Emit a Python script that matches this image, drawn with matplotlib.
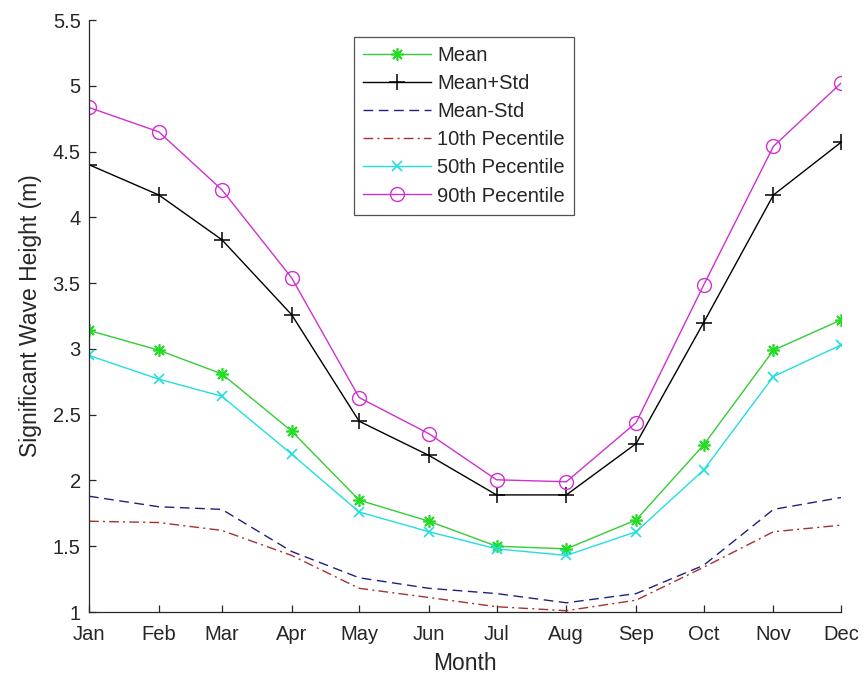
import matplotlib
matplotlib.use("Agg")
import matplotlib.pyplot as plt

months = ["Jan", "Feb", "Mar", "Apr", "May", "Jun", "Jul", "Aug", "Sep", "Oct", "Nov", "Dec"]
day_of_year = [1, 32, 60, 91, 121, 152, 182, 213, 244, 274, 305, 335]

mean_hs = [3.14, 2.99, 2.81, 2.375, 1.85, 1.69, 1.50, 1.48, 1.70, 2.27, 2.99, 3.22]
mean_plus_std = [4.40, 4.17, 3.83, 3.26, 2.45, 2.19, 1.89, 1.89, 2.28, 3.20, 4.17, 4.57]
mean_minus_std = [1.88, 1.80, 1.78, 1.46, 1.26, 1.18, 1.14, 1.07, 1.14, 1.355, 1.78, 1.87]
p10 = [1.69, 1.68, 1.62, 1.43, 1.18, 1.11, 1.04, 1.01, 1.09, 1.34, 1.61, 1.66]
p50 = [2.95, 2.77, 2.64, 2.20, 1.76, 1.61, 1.48, 1.43, 1.61, 2.08, 2.79, 3.03]
p90 = [4.835, 4.65, 4.21, 3.54, 2.63, 2.355, 2.005, 1.99, 2.44, 3.485, 4.54, 5.02]

yticks = [1, 1.5, 2, 2.5, 3, 3.5, 4, 4.5, 5, 5.5]
ytick_labels = ["1", "1.5", "2", "2.5", "3", "3.5", "4", "4.5", "5", "5.5"]

plt.rcParams["font.family"] = ["Liberation Sans", "DejaVu Sans"]

fig = plt.figure(figsize=(8.66, 6.84), dpi=100)
ax = fig.add_axes([89 / 866, 1 - 612 / 684, (841 - 89) / 866, (612 - 20) / 684])

lw = 1.0
ax.plot(day_of_year, mean_hs, color="#35cc35", lw=lw, marker=(8, 2, 0), ms=9,
        mec="#22dd22", mew=1.2, label="Mean")
ax.plot(day_of_year, mean_plus_std, color="black", lw=lw, marker="+", ms=12,
        mew=1.1, label="Mean+Std")
ax.plot(day_of_year, mean_minus_std, color="#20207f", lw=lw, ls=(0, (7, 4)),
        label="Mean-Std")
ax.plot(day_of_year, p10, color="#a83030", lw=lw, ls=(0, (7, 3, 1.5, 3)),
        label="10th Pecentile")
ax.plot(day_of_year, p50, color="#22dede", lw=lw, marker="x", ms=7, mew=1.2,
        label="50th Pecentile")
ax.plot(day_of_year, p90, color="#d030d0", lw=lw, marker="o", ms=10, mfc="none",
        mew=1.0, label="90th Pecentile")

ax.set_xlim(day_of_year[0], day_of_year[-1])
ax.set_ylim(1, 5.5)
ax.set_xticks(day_of_year)
ax.set_xticklabels(months)
ax.set_yticks(yticks)
ax.set_yticklabels(ytick_labels)

for s in ["top", "right"]:
    ax.spines[s].set_visible(False)
for s in ["left", "bottom"]:
    ax.spines[s].set_linewidth(0.9)
    ax.spines[s].set_color("#262626")

ax.tick_params(axis="both", direction="in", length=5, width=0.9, colors="#262626",
               labelsize=14.5, labelcolor="#262626")
ax.tick_params(axis="x", pad=9)
ax.tick_params(axis="y", pad=6)

ax.set_xlabel("Month", fontsize=16.5, color="#262626", labelpad=6)
ax.set_ylabel("Significant Wave Height (m)", fontsize=16.5, color="#262626", labelpad=8)

leg = ax.legend(loc="upper left", bbox_to_anchor=(0.352, 0.971), borderaxespad=0,
                fontsize=14.5, frameon=True, fancybox=False, edgecolor="#262626",
                handlelength=3.4, handletextpad=0.3, labelspacing=0.45,
                borderpad=0.45)
leg.get_frame().set_linewidth(0.9)
for t in leg.get_texts():
    t.set_color("#262626")

fig.savefig("out.png", dpi=100)
